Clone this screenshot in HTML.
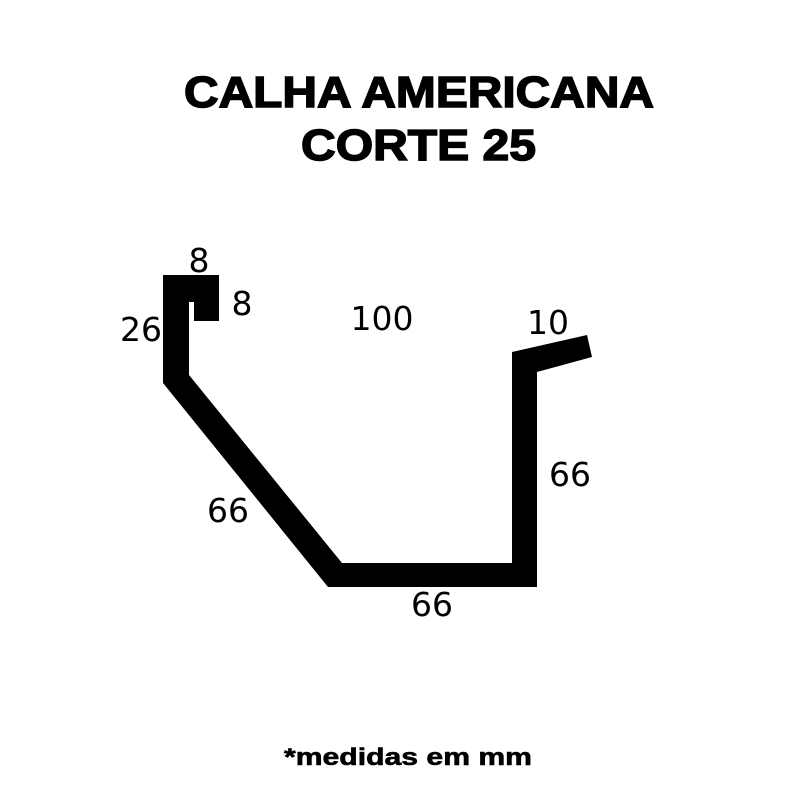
<!DOCTYPE html>
<html><head><style>
body{margin:0;width:800px;height:800px;background:#fff;overflow:hidden}
</style></head><body>
<svg width="800" height="800" viewBox="0 0 800 800" xmlns="http://www.w3.org/2000/svg">
<g font-family="Liberation Sans, sans-serif" font-weight="bold" stroke="#000" stroke-width="1.5">
<text x="184" y="107" font-size="44" textLength="470" lengthAdjust="spacingAndGlyphs">CALHA AMERICANA</text>
<text x="301" y="160" font-size="44" textLength="235" lengthAdjust="spacingAndGlyphs">CORTE 25</text>
<text x="284" y="765" font-size="24" stroke-width="0.6" textLength="248" lengthAdjust="spacingAndGlyphs">*medidas em mm</text>
</g>
<polygon fill="#000" points="163,275 219,275 219,321 194,321 194,302 189,302 189,375 342,563 512,563 512,352 587,335 592,357 537,372 537,587 328,587 163,383"/>
<g font-family="DejaVu Sans, sans-serif" font-size="33" fill="#000">
<text x="199" y="272" text-anchor="middle">8</text>
<text x="242" y="315" text-anchor="middle">8</text>
<text x="141" y="341" text-anchor="middle">26</text>
<text x="382" y="330" text-anchor="middle">100</text>
<text x="548" y="334" text-anchor="middle">10</text>
<text x="570" y="486" text-anchor="middle">66</text>
<text x="228" y="522" text-anchor="middle">66</text>
<text x="432" y="616" text-anchor="middle">66</text>
</g>
</svg>
</body></html>
